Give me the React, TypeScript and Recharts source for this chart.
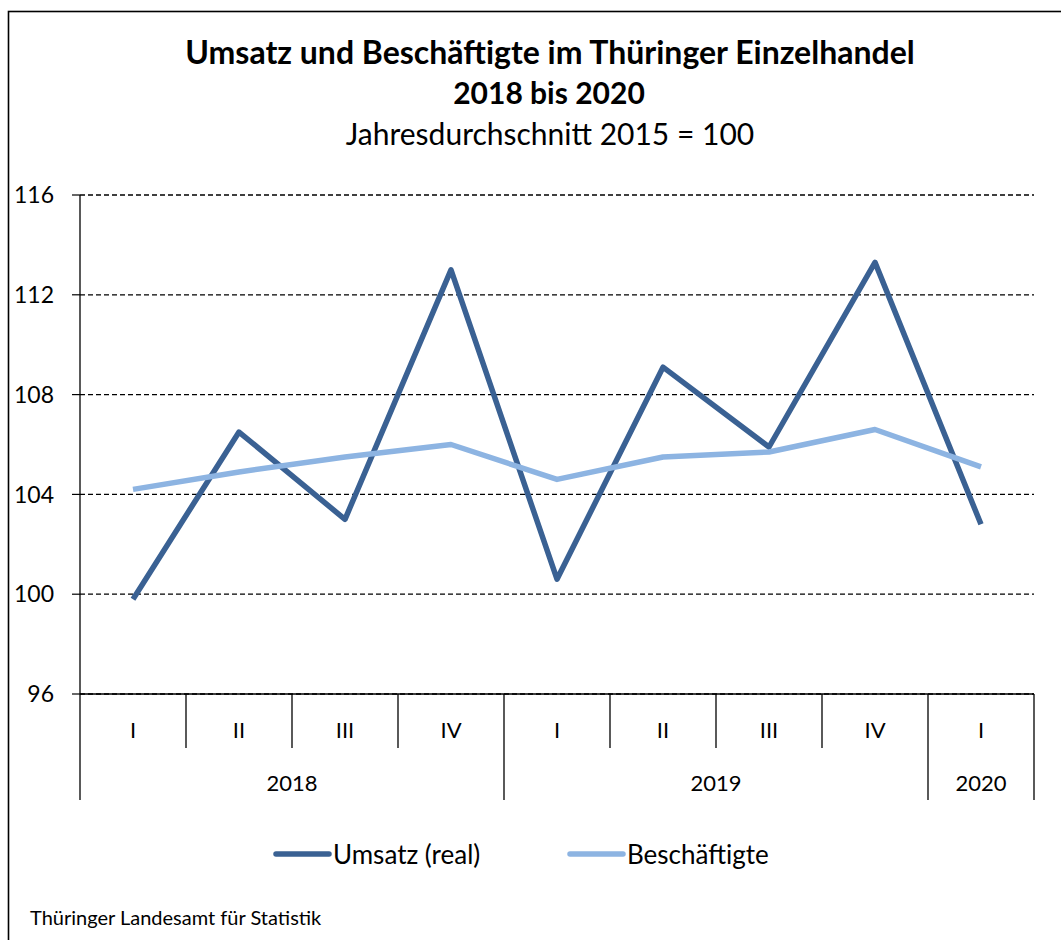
import React from 'react';
import { ComposedChart, Line, XAxis, YAxis, CartesianGrid, Legend } from 'recharts';

const quarters = ['I', 'II', 'III', 'IV', 'I', 'II', 'III', 'IV', 'I'];
const years = ['2018', '2018', '2018', '2018', '2019', '2019', '2019', '2019', '2020'];
const umsatz = [99.8, 106.5, 103.0, 113.0, 100.6, 109.1, 105.9, 113.3, 102.8];
const beschaeftigte = [104.2, 104.9, 105.5, 106.0, 104.6, 105.5, 105.7, 106.6, 105.1];
const yTicks = [96, 100, 104, 108, 112, 116];

const seriesKeys = ['umsatz', 'besch'];
const seriesNames = { umsatz: 'Umsatz (real)', besch: 'Beschäftigte' };
const colors = { umsatz: '#3A6193', besch: '#8DB4E2' };

const data = quarters.map((q, i) => ({
  key: `${years[i]}-${q}`,
  quarter: q,
  year: years[i],
  umsatz: umsatz[i],
  besch: beschaeftigte[i],
}));

const FONT = 'Lato, "Noto Sans", sans-serif';

function QuarterTick(props: any) {
  const { x, y, payload } = props;
  const i: number = payload.index ?? props.index;
  const band: number = payload.offset ? payload.offset * 2 : props.width / data.length;
  const left = x - band / 2;
  const isYearStart = i === 0 || years[i] !== years[i - 1];
  const isLast = i === data.length - 1;
  let count = 0;
  if (isYearStart) {
    for (let j = i; j < years.length && years[j] === years[i]; j++) count++;
  }
  return (
    <g>
      <text x={x} y={y + 44} textAnchor="middle" fontSize={22} fontFamily={FONT} fill="#000">
        {quarters[i]}
      </text>
      <line x1={left} x2={left} y1={y} y2={y + (isYearStart ? 106 : 54)} stroke="#000" strokeWidth={1.3} />
      {isLast && (
        <line x1={left + band} x2={left + band} y1={y} y2={y + 106} stroke="#000" strokeWidth={1.3} />
      )}
      {isYearStart && (
        <text x={left + (count * band) / 2} y={y + 97} textAnchor="middle" fontSize={22} fontFamily={FONT} fill="#000">
          {years[i]}
        </text>
      )}
    </g>
  );
}

function LegendContent(props: any) {
  const payload = [...(props.payload || [])].sort(
    (a: any, b: any) => seriesKeys.indexOf(a.dataKey) - seriesKeys.indexOf(b.dataKey)
  );
  return (
    <div style={{ position: 'relative', width: 1061, height: 40, fontFamily: FONT }}>
      {payload.map((p: any, idx: number) => (
        <div
          key={p.value}
          style={{
            position: 'absolute',
            left: idx === 0 ? 272 : 566,
            top: -1,
            display: 'flex',
            alignItems: 'center',
            height: 40,
          }}
        >
          <svg width={60} height={10} style={{ display: 'block' }}>
            <line x1={4} x2={57} y1={5} y2={5} stroke={p.color} strokeWidth={5.5} strokeLinecap="round" />
          </svg>
          <span style={{ fontSize: 26, color: '#000', marginLeft: 1 }}>{p.value}</span>
        </div>
      ))}
    </div>
  );
}

export default function App() {
  return (
    <div style={{ position: 'absolute', left: 0, top: 0, width: 1061, height: 940, background: '#fff', overflow: 'hidden' }}>
      <svg width={1061} height={940} style={{ position: 'absolute', left: 0, top: 0 }}>
        <rect x={8.5} y={11.5} width={1100} height={1000} fill="none" stroke="#000" strokeWidth={1.6} />
        <text x={550} y={64} textAnchor="middle" fontSize={32} fontWeight="bold" fontFamily={FONT} fill="#000">
          Umsatz und Beschäftigte im Thüringer Einzelhandel
        </text>
        <text x={549} y={104} textAnchor="middle" fontSize={30} fontWeight="bold" fontFamily={FONT} fill="#000">
          2018 bis 2020
        </text>
        <text x={550} y={145} textAnchor="middle" fontSize={30} fontFamily={FONT} fill="#000">
          Jahresdurchschnitt 2015 = 100
        </text>
        <text x={30} y={925} fontSize={20} fontFamily={FONT} fill="#000">
          Thüringer Landesamt für Statistik
        </text>
      </svg>
      <div style={{ position: 'absolute', left: 0, top: 0 }}>
        <ComposedChart
          width={1061}
          height={940}
          data={data}
          margin={{ top: 195, right: 27, bottom: 100, left: 20 }}
        >
          <CartesianGrid
            yAxisId="left"
            horizontal
            vertical={false}
            stroke="#000"
            strokeDasharray="5 3"
            strokeWidth={1.3}
          />
          <XAxis
            dataKey="key"
            type="category"
            scale="band"
            height={106}
            interval={0}
            tickSize={0}
            tickMargin={0}
            tickLine={false}
            axisLine={{ stroke: '#000', strokeWidth: 1.3 }}
            tick={<QuarterTick />}
          />
          <YAxis
            yAxisId="left"
            type="number"
            domain={[96, 116]}
            ticks={yTicks}
            interval={0}
            width={60}
            tickSize={8}
            tickMargin={18}
            axisLine={{ stroke: '#000', strokeWidth: 1.3 }}
            tickLine={{ stroke: '#000', strokeWidth: 1.2 }}
            tick={{ fontSize: 23, fill: '#000', fontFamily: FONT }}
          />
          <YAxis
            yAxisId="right"
            orientation="right"
            type="number"
            domain={[96, 116]}
            width={0}
            tick={false}
            tickLine={false}
            axisLine={{ stroke: '#000', strokeWidth: 1.3 }}
          />
          <Line
            yAxisId="left"
            type="linear"
            dataKey="umsatz"
            name={seriesNames.umsatz}
            stroke={colors.umsatz}
            strokeWidth={5.5}
            strokeLinejoin="round"
            dot={false}
            activeDot={false}
            isAnimationActive={false}
          />
          <Line
            yAxisId="left"
            type="linear"
            dataKey="besch"
            name={seriesNames.besch}
            stroke={colors.besch}
            strokeWidth={5.5}
            strokeLinejoin="round"
            dot={false}
            activeDot={false}
            isAnimationActive={false}
          />
          <Legend
            verticalAlign="bottom"
            content={<LegendContent />}
            wrapperStyle={{ position: 'absolute', left: 0, top: 835, width: 1061, height: 40 }}
          />
        </ComposedChart>
      </div>
    </div>
  );
}
